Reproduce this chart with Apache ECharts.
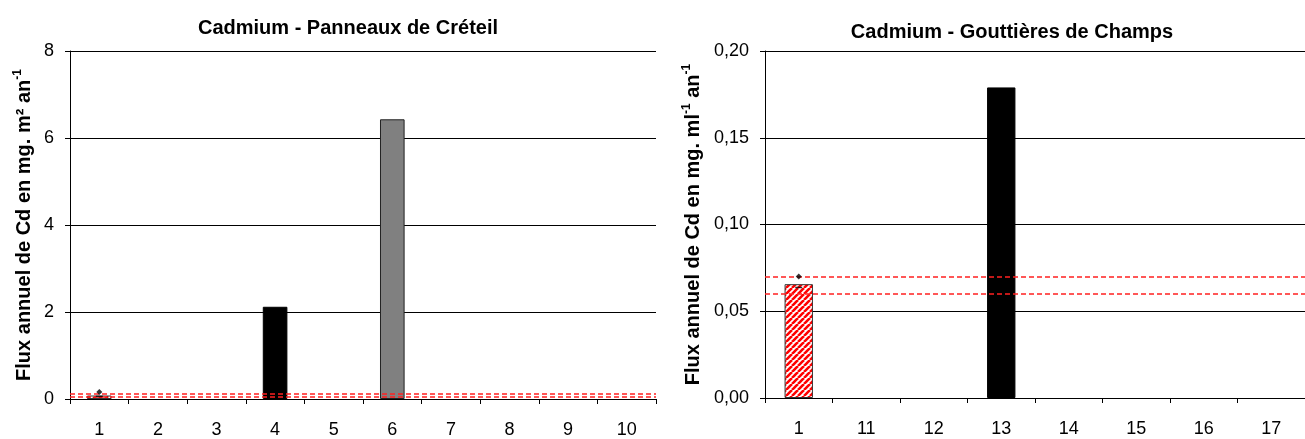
<!DOCTYPE html>
<html>
<head>
<meta charset="utf-8">
<script src="https://cdn.jsdelivr.net/npm/echarts@6/dist/echarts.min.js"></script>
<style>
html,body{margin:0;padding:0;background:#fff;}
#c{width:1305px;height:439px;}
</style>
</head>
<body>
<div id="c"></div>
<script>
// ---- data ----
const leftTitle = 'Cadmium - Panneaux de Créteil';
const rightTitle = 'Cadmium - Gouttières de Champs';
const leftCategories = ['1','2','3','4','5','6','7','8','9','10'];
const leftValues = [0.08, null, null, 2.12, null, 6.43, null, null, null, null];
const leftKinds = ['hatch', null, null, 'black', null, 'grey', null, null, null, null];
const leftErrLow = [0.06];
const leftErrHigh = [0.16];
const leftRefLines = [0.06, 0.13];
const leftTicks = [0, 8, 2];

const rightCategories = ['1','11','12','13','14','15','16','17'];
const rightValues = [0.0656, null, null, 0.179, null, null, null, null];
const rightKinds = ['hatch', null, null, 'black', null, null, null, null];
const rightErrLow = [0.0637];
const rightErrHigh = [0.0701];
const rightRefLines = [0.0637, 0.0701];
const rightTicks = [0, 0.2, 0.05];

// ---- hatch pattern ----
function makeHatch() {
  const s = 6;
  const cv = document.createElement('canvas');
  cv.width = s; cv.height = s;
  const g = cv.getContext('2d');
  g.fillStyle = '#ffffff';
  g.fillRect(0, 0, s, s);
  g.strokeStyle = '#ff0000';
  g.lineWidth = 2.6;
  g.beginPath();
  for (let k = -1; k <= 1; k++) {
    g.moveTo(k * s, s);
    g.lineTo(k * s + s, 0);
  }
  g.stroke();
  return cv;
}
const hatch = { image: makeHatch(), repeat: 'repeat' };

function styleFor(kind) {
  if (kind === 'hatch') return { color: hatch, borderColor: '#333', borderWidth: 1 };
  if (kind === 'black') return { color: '#000000', borderColor: '#000', borderWidth: 1 };
  if (kind === 'grey') return { color: '#808080', borderColor: '#222', borderWidth: 1 };
  return {};
}
function barData(values, kinds) {
  return values.map((v, i) => v == null ? '-' : { value: v, itemStyle: styleFor(kinds[i]) });
}

const FONT = 'Liberation Sans, Arial, sans-serif';
const axisLineStyle = { color: '#000', width: 1 };

function yAxis(idx, ticks, fmt, name, nameGap) {
  return {
    type: 'value', gridIndex: idx,
    min: ticks[0], max: ticks[1], interval: ticks[2],
    axisLine: { show: true, lineStyle: axisLineStyle },
    axisTick: { show: true, length: 5, lineStyle: axisLineStyle },
    axisLabel: { color: '#000', fontSize: 18, fontFamily: FONT, margin: 16, formatter: fmt },
    splitLine: { show: true, lineStyle: { color: '#000', width: 1 } },
    name: name, nameLocation: 'middle', nameGap: nameGap, nameRotate: 90,
    nameTextStyle: {
      color: '#000', fontFamily: FONT, fontSize: 20, fontWeight: 'bold',
      rich: {
        b: { fontFamily: FONT, fontSize: 20, fontWeight: 'bold', color: '#000', lineHeight: 24 },
        s: { fontFamily: FONT, fontSize: 12, fontWeight: 'bold', color: '#000', verticalAlign: 'top', lineHeight: 24, padding: [0, 0, 10, 0] }
      }
    }
  };
}
function xAxis(idx, cats) {
  return {
    type: 'category', gridIndex: idx, data: cats, boundaryGap: true,
    axisLine: { show: true, lineStyle: axisLineStyle },
    axisTick: { show: true, length: 5, lineStyle: axisLineStyle, alignWithLabel: false },
    axisLabel: { color: '#000', fontSize: 18, fontFamily: FONT, margin: 22, interval: 0 },
    splitLine: { show: false }
  };
}
function refLines(vals) {
  return {
    silent: true, symbol: 'none', label: { show: false },
    lineStyle: { color: '#ff2020', type: [5, 3], width: 1.5 },
    data: vals.map(v => ({ yAxis: v }))
  };
}

const chart = echarts.init(document.getElementById('c'), null, { renderer: 'canvas' });
chart.setOption({
  animation: false,
  backgroundColor: '#ffffff',
  title: [
    { text: leftTitle, left: 343, top: 13, textAlign: 'center',
      textStyle: { fontFamily: FONT, fontSize: 20, fontWeight: 'bold', color: '#000' } },
    { text: rightTitle, left: 1007, top: 17, textAlign: 'center',
      textStyle: { fontFamily: FONT, fontSize: 20, fontWeight: 'bold', color: '#000' } }
  ],
  grid: [
    { left: 70, top: 51, width: 586, height: 349 },
    { left: 765, top: 51, width: 547, height: 347 }
  ],
  xAxis: [xAxis(0, leftCategories), xAxis(1, rightCategories)],
  yAxis: [
    yAxis(0, leftTicks, v => String(v), '{b|Flux annuel de Cd en mg. m² an}{s|-1}', 34),
    yAxis(1, rightTicks, v => v.toFixed(2).replace('.', ','), '{b|Flux annuel de Cd en mg. ml}{s|-1}{b| an}{s|-1}', 60)
  ],
  series: [
    { type: 'bar', xAxisIndex: 0, yAxisIndex: 0, barWidth: '42%',
      data: barData(leftValues, leftKinds), markLine: refLines(leftRefLines), z: 2 },
    { type: 'bar', xAxisIndex: 1, yAxisIndex: 1, barWidth: '42%',
      data: barData(rightValues, rightKinds), markLine: refLines(rightRefLines), z: 2 },
    { type: 'scatter', xAxisIndex: 0, yAxisIndex: 0, symbol: 'diamond', symbolSize: 6,
      itemStyle: { color: '#000' }, data: leftErrHigh.map((v, i) => [leftCategories[i], v]), z: 5 },
    { type: 'scatter', xAxisIndex: 0, yAxisIndex: 0, symbol: 'rect', symbolSize: [7, 1.5],
      itemStyle: { color: '#000' }, data: leftErrLow.map((v, i) => [leftCategories[i], v]), z: 5 },
    { type: 'scatter', xAxisIndex: 1, yAxisIndex: 1, symbol: 'diamond', symbolSize: 6,
      itemStyle: { color: '#000' }, data: rightErrHigh.map((v, i) => [rightCategories[i], v]), z: 5 },
    { type: 'scatter', xAxisIndex: 1, yAxisIndex: 1, symbol: 'rect', symbolSize: [7, 1.5],
      itemStyle: { color: '#000' }, data: rightErrLow.map((v, i) => [rightCategories[i], v]), z: 5 }
  ]
});
</script>
</body>
</html>
